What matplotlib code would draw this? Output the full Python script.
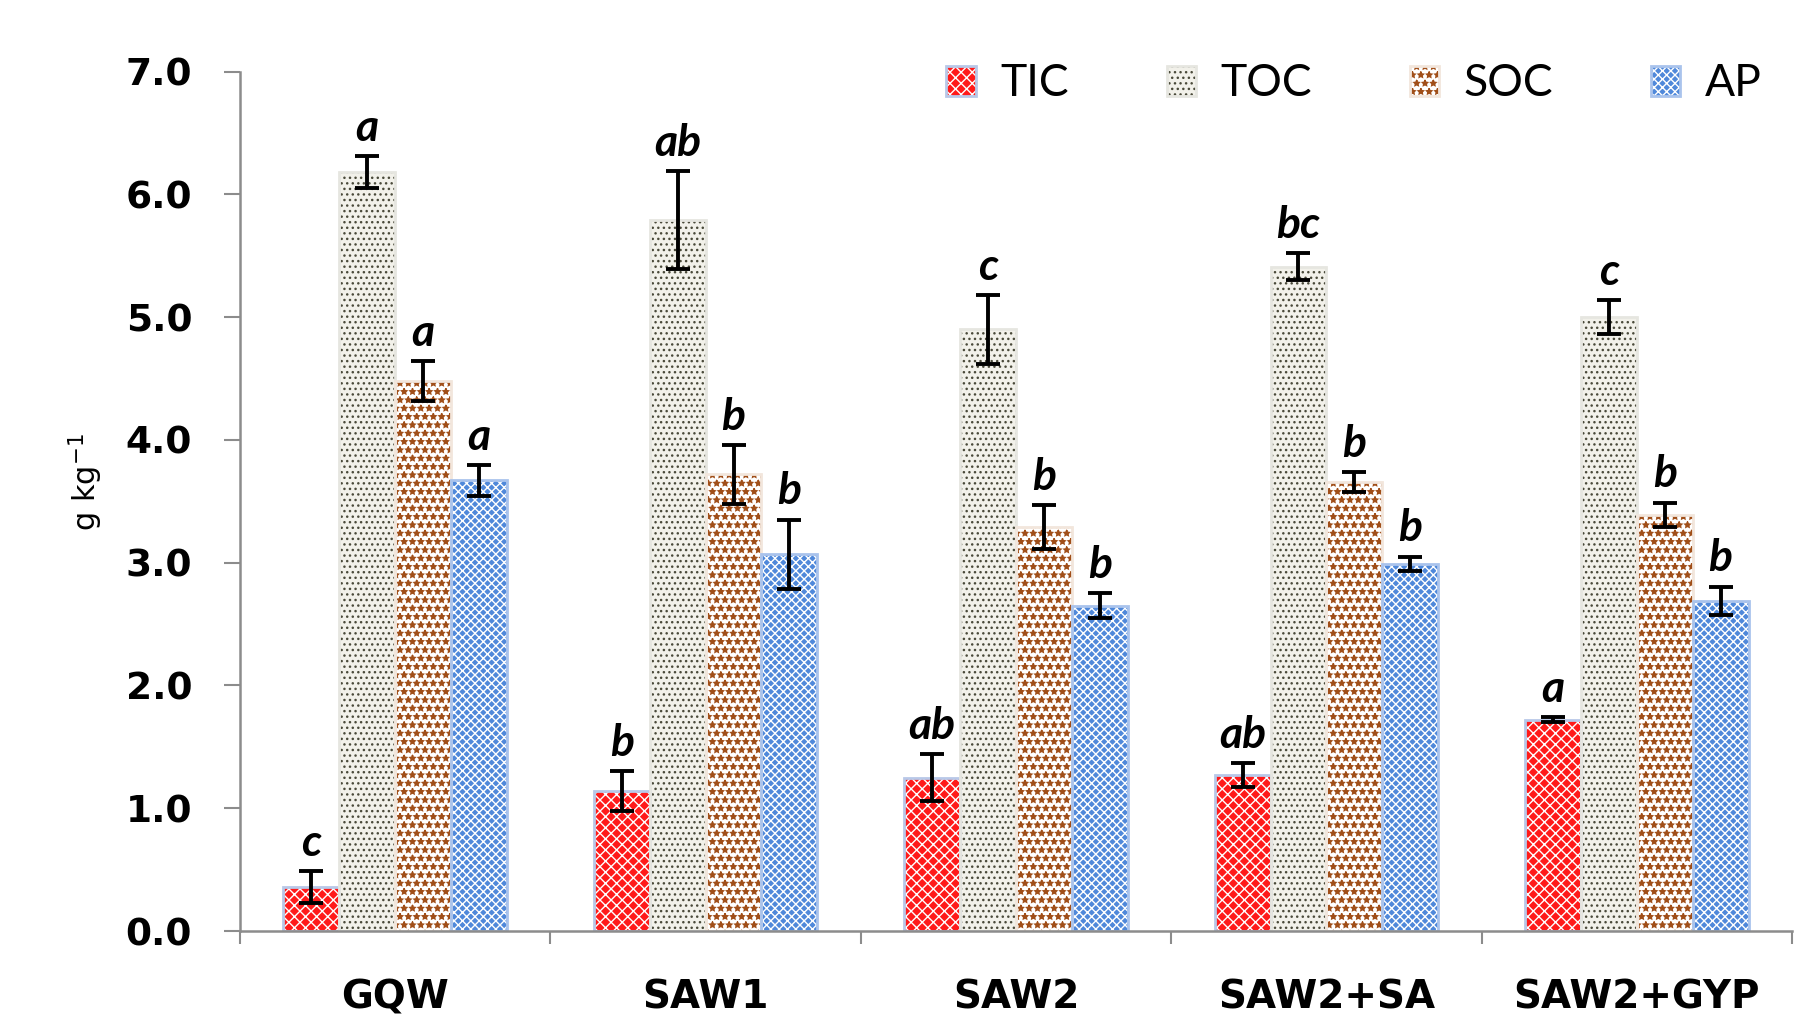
import matplotlib
matplotlib.use('Agg')
import matplotlib.pyplot as plt
import numpy as np

categories = ['GQW', 'SAW1', 'SAW2', 'SAW2+SA', 'SAW2+GYP']
series = ['TIC', 'TOC', 'SOC', 'AP']
TIC = [0.36, 1.14, 1.25, 1.27, 1.72]
TIC_err = [0.13, 0.16, 0.19, 0.10, 0.02]
TOC = [6.18, 5.79, 4.90, 5.41, 5.00]
TOC_err = [0.13, 0.40, 0.28, 0.11, 0.14]
SOC = [4.48, 3.72, 3.29, 3.66, 3.39]
SOC_err = [0.16, 0.24, 0.18, 0.08, 0.10]
AP = [3.67, 3.07, 2.65, 2.99, 2.69]
AP_err = [0.125, 0.28, 0.10, 0.06, 0.115]
TIC_letters = ['c', 'b', 'ab', 'ab', 'a']
TOC_letters = ['a', 'ab', 'c', 'bc', 'c']
SOC_letters = ['a', 'b', 'b', 'b', 'b']
AP_letters = ['a', 'b', 'b', 'b', 'b']
yticks = [0, 1, 2, 3, 4, 5, 6, 7]

values = [TIC, TOC, SOC, AP]
errors = [TIC_err, TOC_err, SOC_err, AP_err]
letters = [TIC_letters, TOC_letters, SOC_letters, AP_letters]

styles = [
    dict(face='#FF1A1A', hatch_col='#FFFFFF', hatch='xxx', edge='#B8C8E8'),
    dict(face='#F2F1EA', hatch_col='#4A4A3A', hatch='...', edge='#E6E6E0'),
    dict(face='#FFFFFF', hatch_col='#A04E18', hatch='**', edge='#F2E6DC'),
    dict(face='#4F88DA', hatch_col='#FFFFFF', hatch='xxxx', edge='#A9C3EC'),
]

plt.rcParams['hatch.linewidth'] = 1.0
fig = plt.figure(figsize=(17.94, 10.19), dpi=100)
ax = fig.add_axes([240/1794, 1-931/1019, (1792-240)/1794, (931-71.7)/1019])

x = np.arange(len(categories))
w = 0.18
handles = []
for i, (vals, errs, let, st) in enumerate(zip(values, errors, letters, styles)):
    pos = x + (i - 1.5) * w
    b1 = ax.bar(pos, vals, w, color=st['face'], edgecolor=st['hatch_col'],
                hatch=st['hatch'], linewidth=0, zorder=2)
    b2 = ax.bar(pos, vals, w, fill=False, edgecolor=st['edge'], linewidth=2.0, zorder=2.5)
    ax.errorbar(pos, vals, yerr=errs, fmt='none', ecolor='black', elinewidth=2.8,
                capsize=8.5, capthick=2.8, zorder=3)
    for p, v, e, l in zip(pos, vals, errs, let):
        ax.annotate(l, (p, v + e), xytext=(0, 11), textcoords='offset points',
                    ha='center', va='baseline', fontsize=32, fontweight='bold',
                    fontstyle='italic', family='Lato', zorder=4)
    handles.append((b1[0], b2[0]))

ax.set_xlim(-0.5, len(categories) - 0.5)
ax.set_ylim(0, 7)
ax.set_yticks(yticks)
ax.set_yticklabels([f'{t:.1f}' for t in yticks])
ax.set_xticks(x)
ax.set_xticklabels(categories)
ax.set_xticks(np.arange(len(categories) + 1) - 0.5, minor=True)

for s in ['top', 'right']:
    ax.spines[s].set_visible(False)
for s in ['left', 'bottom']:
    ax.spines[s].set_color('#8C8C8C')
    ax.spines[s].set_linewidth(1.8)

ax.tick_params(axis='y', direction='out', length=11.5, width=1.5, color='#8C8C8C',
               pad=23, labelsize=27)
ax.tick_params(axis='x', which='major', length=0, pad=34, labelsize=28)
ax.tick_params(axis='x', which='minor', direction='out', length=9, width=1.5, color='#8C8C8C')
for lab in ax.get_yticklabels() + ax.get_xticklabels():
    lab.set_fontweight('bold')
    lab.set_family('DejaVu Sans')

fig.text(86/1794, 1-482/1019, 'g kg$^{-1}$', rotation=90, ha='center', va='center',
         fontsize=22, family='DejaVu Sans')

leg = fig.legend(handles, series, loc='center', bbox_to_anchor=(0.7547, 1-84/1019),
                 ncol=4, frameon=False, prop={'family': 'Lato', 'size': 32},
                 handlelength=0.66, handleheight=0.66, handletextpad=0.55,
                 columnspacing=2.2)

fig.savefig('out.png', dpi=100)
